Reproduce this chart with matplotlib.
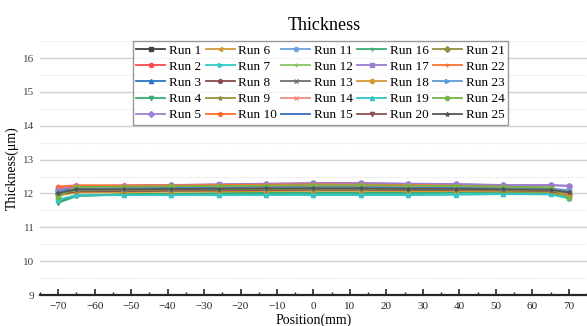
import matplotlib
matplotlib.use("Agg")
import matplotlib.pyplot as plt
from matplotlib.ticker import MultipleLocator

plt.rcParams['font.family'] = ['Liberation Serif', 'DejaVu Serif']

# Olcum noktalari (mm)
positions = [-70, -65, -52, -39, -26, -13, 0, 13, 26, 39, 52, 65, 70]

run_labels = [f"Run {i}" for i in range(1, 26)]

run_values = [
    [12.02, 12.13, 12.13, 12.14, 12.15, 12.16, 12.16, 12.16, 12.15, 12.15, 12.13, 12.12, 12.05],
    [12.18, 12.22, 12.22, 12.23, 12.24, 12.25, 12.26, 12.25, 12.24, 12.22, 12.19, 12.15, 11.95],
    [12.08, 12.15, 12.16, 12.17, 12.18, 12.19, 12.19, 12.18, 12.17, 12.16, 12.14, 12.13, 12.02],
    [11.72, 11.92, 11.97, 11.98, 11.99, 12.00, 12.01, 12.01, 12.01, 12.02, 12.03, 12.00, 11.85],
    [12.10, 12.20, 12.22, 12.24, 12.26, 12.28, 12.30, 12.30, 12.28, 12.27, 12.24, 12.24, 12.22],
    [11.95, 12.05, 12.06, 12.07, 12.08, 12.09, 12.10, 12.10, 12.09, 12.09, 12.08, 12.06, 11.92],
    [11.80, 11.95, 11.96, 11.96, 11.96, 11.97, 11.97, 11.97, 11.97, 11.98, 11.99, 11.98, 11.88],
    [11.98, 12.08, 12.09, 12.10, 12.10, 12.11, 12.12, 12.12, 12.11, 12.11, 12.10, 12.08, 11.98],
    [12.00, 12.10, 12.11, 12.12, 12.13, 12.14, 12.14, 12.14, 12.13, 12.13, 12.11, 12.10, 12.00],
    [12.20, 12.24, 12.24, 12.25, 12.26, 12.27, 12.28, 12.27, 12.26, 12.24, 12.21, 12.17, 11.97],
    [12.05, 12.12, 12.13, 12.14, 12.15, 12.16, 12.17, 12.17, 12.16, 12.16, 12.15, 12.14, 12.10],
    [11.92, 12.20, 12.21, 12.22, 12.23, 12.24, 12.25, 12.25, 12.24, 12.23, 12.21, 12.18, 11.90],
    [12.03, 12.11, 12.12, 12.13, 12.14, 12.15, 12.15, 12.15, 12.14, 12.14, 12.13, 12.12, 12.04],
    [12.12, 12.18, 12.19, 12.20, 12.21, 12.22, 12.22, 12.22, 12.21, 12.20, 12.18, 12.15, 12.00],
    [12.06, 12.14, 12.15, 12.16, 12.17, 12.18, 12.18, 12.18, 12.17, 12.16, 12.15, 12.14, 12.06],
    [11.75, 11.93, 11.98, 11.99, 12.01, 12.02, 12.03, 12.03, 12.03, 12.04, 12.04, 12.02, 11.87],
    [12.12, 12.21, 12.23, 12.25, 12.27, 12.29, 12.31, 12.31, 12.29, 12.28, 12.25, 12.25, 12.23],
    [11.93, 12.03, 12.04, 12.05, 12.06, 12.07, 12.08, 12.08, 12.07, 12.07, 12.06, 12.05, 11.90],
    [11.82, 11.94, 11.95, 11.95, 11.95, 11.95, 11.95, 11.95, 11.95, 11.96, 11.98, 11.97, 11.86],
    [11.97, 12.06, 12.07, 12.08, 12.09, 12.10, 12.11, 12.11, 12.10, 12.10, 12.09, 12.07, 11.96],
    [11.99, 12.09, 12.10, 12.11, 12.12, 12.13, 12.13, 12.13, 12.12, 12.12, 12.10, 12.09, 11.99],
    [12.19, 12.23, 12.23, 12.24, 12.25, 12.26, 12.27, 12.26, 12.25, 12.23, 12.20, 12.16, 11.96],
    [12.04, 12.12, 12.13, 12.14, 12.15, 12.16, 12.16, 12.16, 12.15, 12.15, 12.14, 12.13, 12.08],
    [11.90, 12.19, 12.20, 12.21, 12.22, 12.23, 12.24, 12.24, 12.23, 12.22, 12.20, 12.17, 11.88],
    [12.01, 12.12, 12.12, 12.13, 12.14, 12.15, 12.15, 12.15, 12.14, 12.14, 12.12, 12.11, 12.03],
]

# Renkler ve isaretler (legend sirasi)
colors = [
    "#404040", "#ff4b4b", "#2e75c8", "#3cab6e", "#a07fd4",
    "#d09a3a", "#2ecaca", "#8a4a4a", "#9a9040", "#ff6a28",
    "#6aa2dc", "#86c466", "#707070", "#f28a80", "#3470c4",
    "#3aac74", "#9c7cd0", "#d49a30", "#36c4c4", "#8a5050",
    "#909040", "#ff7234", "#5e9cd8", "#74b448", "#555555",
]
markers = [
    "s", "o", "^", "v", "D",
    "<", ">", "h", "*", "p",
    "o", "+", "x", "x", "",
    "+", "s", "o", "^", "v",
    "D", "+", ">", "o", "*",
]

fig = plt.figure(figsize=(5.87, 3.26), dpi=100)
ax = fig.add_axes([0.068, 0.095, 0.932, 0.779])

for lab, vals, c, m in zip(run_labels, run_values, colors, markers):
    ax.plot(positions, vals, color=c, marker=m, markersize=3,
            linewidth=1.3, label=lab)

ax.set_xlim(-75, 75)
ax.set_ylim(9, 16.5)
ax.xaxis.set_major_locator(MultipleLocator(10))
ax.xaxis.set_minor_locator(MultipleLocator(5))
ax.yaxis.set_major_locator(MultipleLocator(1))
ax.yaxis.set_minor_locator(MultipleLocator(0.5))

ax.grid(which="major", axis="y", color="#d0d0d0", linewidth=1.0)
ax.grid(which="minor", axis="y", color="#dcdcdc", linewidth=0.8, linestyle=(0, (1, 1.5)))
ax.set_axisbelow(True)

for s in ["top", "right", "left"]:
    ax.spines[s].set_visible(False)
ax.spines["bottom"].set_linewidth(1.6)
ax.spines["bottom"].set_color("#262626")

ax.tick_params(axis="x", which="major", direction="in", length=4, width=1.2,
               labelsize=8, colors="#262626", pad=5)
ax.tick_params(axis="x", which="minor", direction="in", length=2, width=1.0,
               colors="#262626")
ax.tick_params(axis="y", which="both", length=0, labelsize=8, colors="#404040", pad=4)

ax.set_title("Thickness", fontsize=13, pad=8, x=0.52)
ax.set_xlabel("Position(mm)", fontsize=10, labelpad=2)
ax.set_ylabel("Thickness(μm)", fontsize=10, labelpad=3)

leg = ax.legend(ncol=5, loc="upper center", bbox_to_anchor=(0.513, 1.0),
                fontsize=9.5, frameon=True, fancybox=False, borderpad=0.25,
                labelspacing=0.3, handlelength=2.2, handletextpad=0.3,
                columnspacing=0.3, borderaxespad=0.0)
leg.get_frame().set_edgecolor("#808080")
leg.get_frame().set_linewidth(1.0)

fig.savefig("out.png", dpi=100)
